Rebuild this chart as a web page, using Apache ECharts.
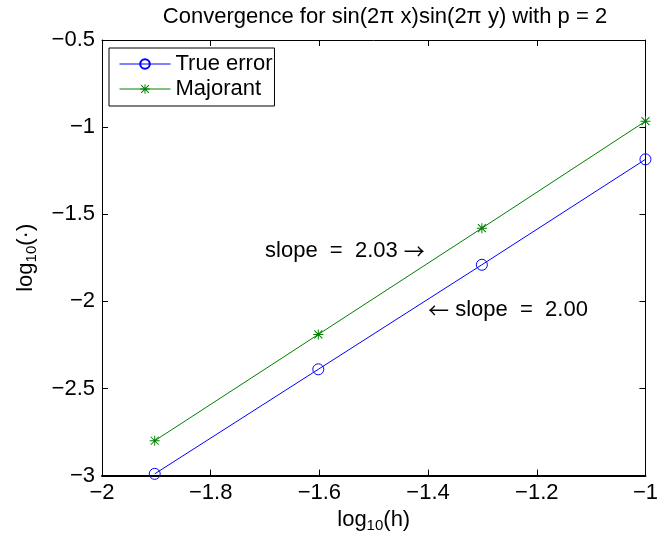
<!DOCTYPE html>
<html>
<head>
<meta charset="utf-8">
<script src="https://cdn.jsdelivr.net/npm/echarts@6/dist/echarts.min.js"></script>
<style>
  html, body { margin: 0; padding: 0; background: #fff; }
  #chart { width: 661px; height: 538px; }
</style>
</head>
<body>
<div id="chart"></div>
<script>
// log10(h) for h = 1/80, 1/40, 1/20, 1/10
const logH = [-1.903, -1.602, -1.301, -1.0];
const trueError = [-2.99, -2.39, -1.79, -1.185];
const majorant = [-2.80, -2.19, -1.58, -0.966];

const xTicks = [-2, -1.8, -1.6, -1.4, -1.2, -1];
const yTicks = [-3, -2.5, -2, -1.5, -1, -0.5];

// text annotations: [x, y, label]
const notes = [
  [-1.70, -1.71, 'slope  =  2.03 {ar|\u2192}'],
  [-1.40, -2.05, '{ar|\u2190} slope  =  2.00']
];

const FONT = '"Liberation Sans", Arial, Helvetica, sans-serif';
const FS = 22;
// matlab style asterisk marker
const STAR = 'path://M0 9L20 9L20 11L0 11Z M9 0L11 0L11 20L9 20Z M1.3 2.7L2.7 1.3L18.7 17.3L17.3 18.7Z M17.3 1.3L18.7 2.7L2.7 18.7L1.3 17.3Z';

function tickText(v, ticks) {
  const t = ticks.find(k => Math.abs(k - v) < 1e-9);
  if (t === undefined) return '';
  return String(t).replace('-', '\u2212');
}

const chart = echarts.init(document.getElementById('chart'));

const axisCommon = {
  axisLine: { show: true, onZero: false, lineStyle: { color: '#000', width: 1 } },
  axisTick: { show: true, inside: true, length: 6, lineStyle: { color: '#000' } },
  splitLine: { show: false }
};

const nameRich = {
  a: { fontFamily: FONT, fontSize: FS, color: '#000' },
  s: { fontFamily: FONT, fontSize: 15, color: '#000', padding: [12, 0, 0, 0] }
};

const option = {
  animation: false,
  backgroundColor: '#fff',
  title: {
    text: 'Convergence for sin(2\u03c0 x)sin(2\u03c0 y) with p = 2',
    left: 380,
    top: 1,
    textAlign: 'center',
    textStyle: { fontFamily: FONT, fontSize: FS, fontWeight: 'normal', color: '#000' }
  },
  legend: {
    data: ['True error', 'Majorant'],
    orient: 'vertical',
    left: 109,
    top: 48,
    padding: [5, 2, 6, 10],
    itemWidth: 51,
    itemHeight: 12,
    itemGap: 3,
    borderColor: '#000',
    borderWidth: 1,
    backgroundColor: '#fff',
    borderRadius: 0,
    lineStyle: { width: 1 },
    textStyle: { fontFamily: FONT, fontSize: FS, color: '#000' }
  },
  grid: { left: 102, right: 4, top: 40, bottom: 62, containLabel: false },
  xAxis: [
    Object.assign({}, axisCommon, {
      type: 'value', position: 'bottom', min: -2, max: -1, interval: 0.2,
      axisLine: { show: true, onZero: false, lineStyle: { color: '#000', width: 2 } },
      name: '{a|log}{s|10}{a|(h)}', nameLocation: 'middle', nameGap: 25,
      nameTextStyle: { rich: nameRich },
      axisLabel: {
        margin: 6, fontFamily: FONT, fontSize: FS, color: '#000',
        formatter: v => tickText(v, xTicks)
      }
    }),
    Object.assign({}, axisCommon, {
      type: 'value', position: 'top', min: -2, max: -1, interval: 0.2,
      axisLabel: { show: false }
    })
  ],
  yAxis: [
    Object.assign({}, axisCommon, {
      type: 'value', position: 'left', min: -3, max: -0.5, interval: 0.5,
      name: '{a|log}{s|10}{a|(\u00b7)}', nameLocation: 'middle', nameGap: 63, nameRotate: 90,
      nameTextStyle: { rich: nameRich },
      axisLabel: {
        margin: 7, fontFamily: FONT, fontSize: FS, color: '#000',
        formatter: v => tickText(v, yTicks)
      }
    }),
    Object.assign({}, axisCommon, {
      type: 'value', position: 'right', min: -3, max: -0.5, interval: 0.5,
      axisLabel: { show: false }
    })
  ],
  series: [
    {
      name: 'True error',
      type: 'line',
      data: logH.map((x, i) => [x, trueError[i]]),
      symbol: 'circle',
      symbolSize: 11,
      showAllSymbol: true,
      clip: false,
      color: '#0000ff',
      lineStyle: { color: '#0000ff', width: 1 },
      itemStyle: { color: 'rgba(0,0,0,0)', borderColor: '#0000ff', borderWidth: 1 }
    },
    {
      name: 'Majorant',
      type: 'line',
      data: logH.map((x, i) => [x, majorant[i]]),
      symbol: STAR,
      symbolSize: 10,
      showAllSymbol: true,
      clip: false,
      color: '#008000',
      lineStyle: { color: '#008000', width: 1 },
      itemStyle: { color: '#008000' }
    },
    {
      name: 'notes',
      type: 'scatter',
      data: notes.map(n => ({ value: [n[0], n[1]], label: { formatter: n[2] } })),
      symbolSize: 0,
      silent: true,
      itemStyle: { opacity: 1 },
      label: {
        show: true, position: 'right', distance: 0,
        fontFamily: FONT, fontSize: FS, color: '#000',
        rich: {
          ar: { fontFamily: '"Noto Sans CJK SC"', fontSize: 21, color: '#000' }
        }
      }
    }
  ]
};

chart.setOption(option);
</script>
</body>
</html>
